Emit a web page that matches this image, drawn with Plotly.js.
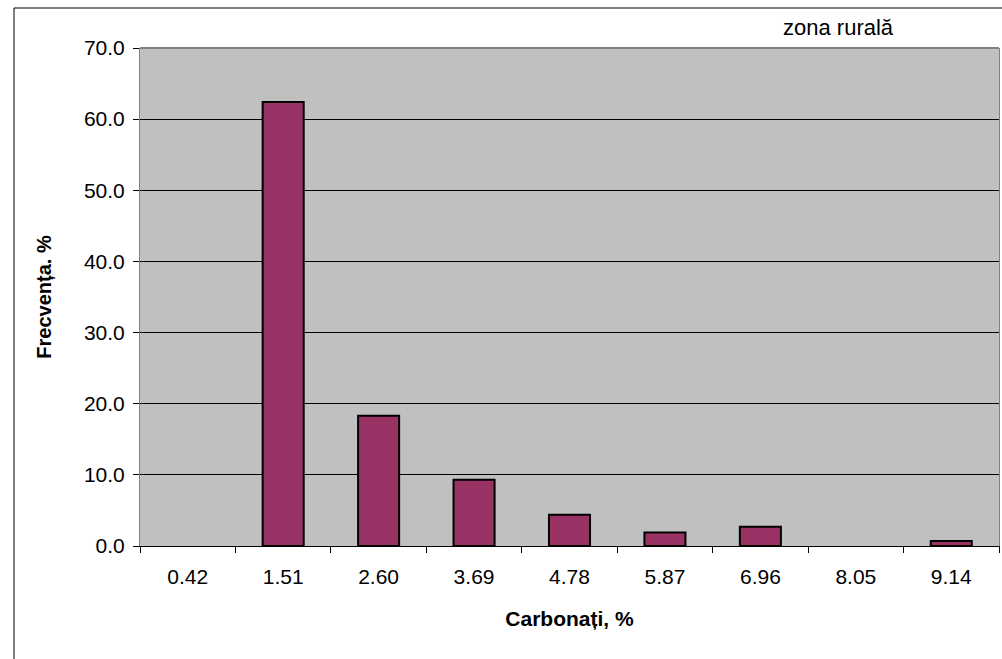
<!DOCTYPE html>
<html>
<head>
<meta charset="utf-8">
<script src="https://cdn.plot.ly/plotly-3.0.1.min.js"></script>
<style>
  html, body { margin: 0; padding: 0; background: #ffffff; }
  #chart { width: 1002px; height: 659px; }
</style>
</head>
<body>
<div id="chart"></div>
<script>
// Class midpoints of carbonate content (%)
const categories = ['0.42', '1.51', '2.60', '3.69', '4.78', '5.87', '6.96', '8.05', '9.14'];
// Frequency of samples in each class (%)
const frequency = [0, 62.4, 18.3, 9.3, 4.4, 1.9, 2.7, 0, 0.7];

const yTicks = [0, 10, 20, 30, 40, 50, 60, 70];
const yTickText = yTicks.map(v => v.toFixed(1));

const font = 'Liberation Sans, Arial, sans-serif';

const trace = {
  type: 'bar',
  x: categories,
  y: frequency,
  marker: {
    color: '#993366',
    // empty classes get no outline
    line: { color: '#000000', width: frequency.map(v => (v > 0 ? 2 : 0)) }
  },
  hoverinfo: 'x+y'
};

const layout = {
  width: 1002,
  height: 659,
  margin: { l: 140, r: 3, t: 48, b: 113 },
  paper_bgcolor: '#ffffff',
  plot_bgcolor: '#c0c0c0',
  bargap: 0.57,
  showlegend: false,
  font: { family: font, size: 21, color: '#000000' },
  xaxis: {
    type: 'category',
    tickson: 'boundaries',
    ticks: 'outside',
    ticklen: 6,
    tickcolor: '#000000',
    ticklabelstandoff: 12,
    showgrid: false,
    showline: true,
    linecolor: '#000000',
    linewidth: 1,
    tickfont: { family: font, size: 21 },
    title: { text: '<b>Carbonați, %</b>', font: { family: font, size: 21 }, standoff: 24 },
    fixedrange: true
  },
  yaxis: {
    range: [0, 70],
    tickvals: yTicks,
    ticktext: yTickText,
    ticks: 'outside',
    ticklen: 6,
    tickcolor: '#000000',
    ticklabelstandoff: 4,
    showgrid: true,
    gridcolor: '#000000',
    gridwidth: 1,
    zeroline: false,
    showline: true,
    mirror: true,
    linecolor: '#808080',
    linewidth: 1,
    tickfont: { family: font, size: 21 },
    title: { text: '<b>Frecvența. %</b>', font: { family: font, size: 20 }, standoff: 26 },
    fixedrange: true
  },
  shapes: [
    // top edge of the plotting area
    { type: 'line', xref: 'paper', yref: 'paper', x0: 0, x1: 1, y0: 1, y1: 1,
      line: { color: '#808080', width: 2 }, layer: 'above' },
    // outer chart frame
    { type: 'rect', xref: 'paper', yref: 'paper',
      x0: (14 - 140) / 859, x1: 1.2, y0: 1 + (48 - 8) / 498, y1: -0.5,
      line: { color: '#000000', width: 1 }, fillcolor: 'rgba(0,0,0,0)', layer: 'below' }
  ],
  annotations: [
    { text: 'zona rurală', xref: 'paper', yref: 'paper',
      x: (838 - 140) / 859, y: 1 + (48 - 28) / 498, xanchor: 'center', yanchor: 'middle',
      showarrow: false, font: { family: font, size: 22, color: '#000000' } }
  ]
};

Plotly.newPlot('chart', [trace], layout, { displayModeBar: false, staticPlot: true });
</script>
</body>
</html>
